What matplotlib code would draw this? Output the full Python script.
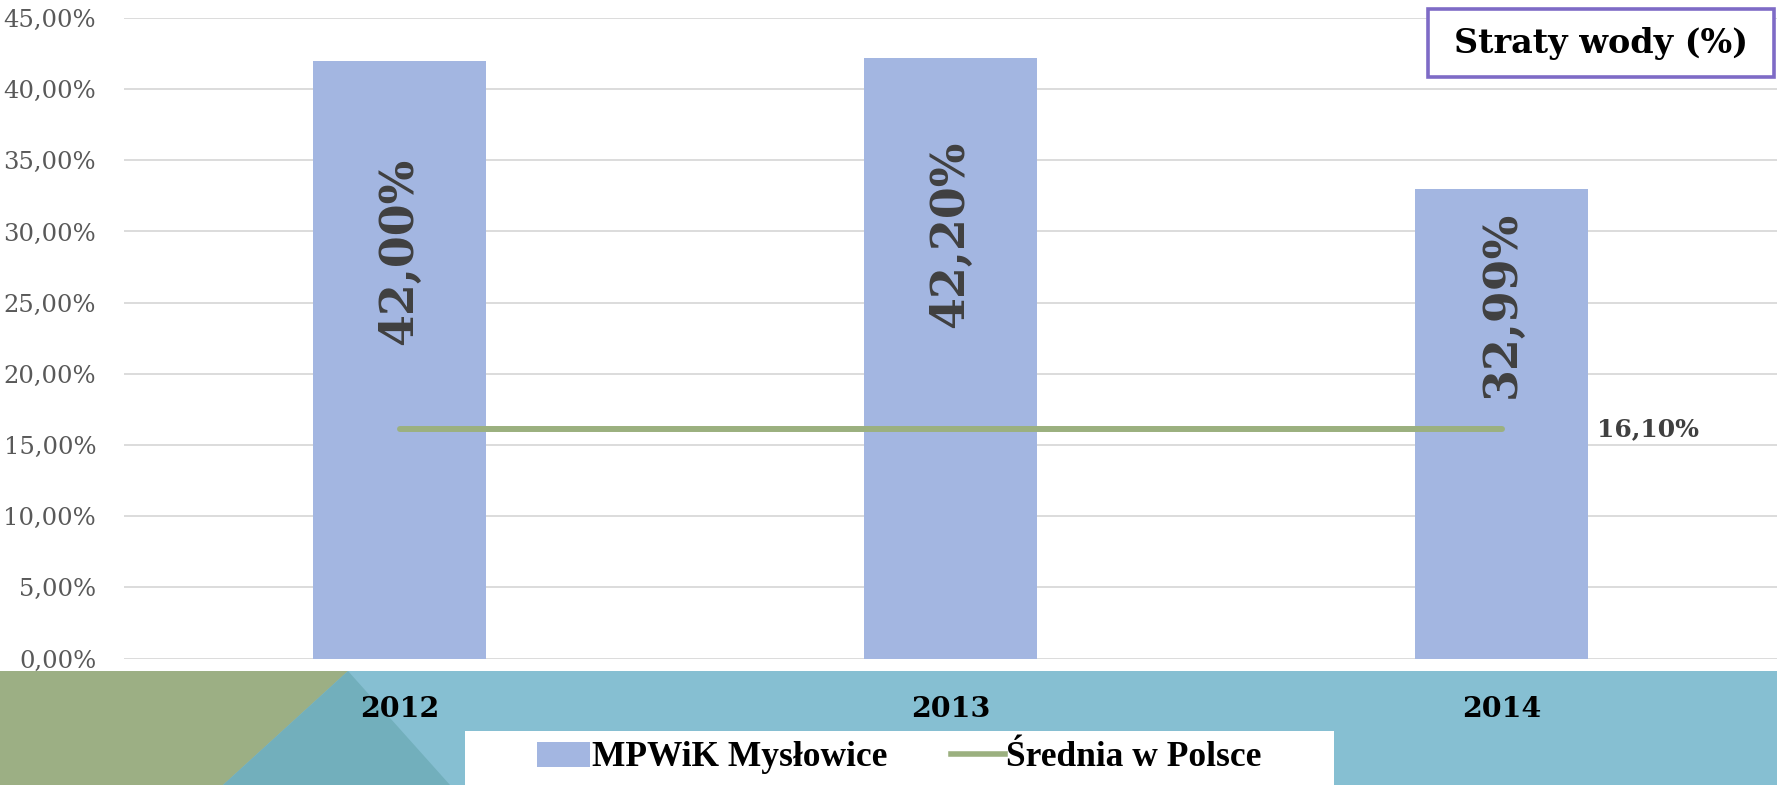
import matplotlib
matplotlib.use("Agg")
import matplotlib.pyplot as plt
from matplotlib.patches import Polygon, Rectangle, Patch
from matplotlib.lines import Line2D
from matplotlib.ticker import FuncFormatter

# ---- data ----
years = ["2012", "2013", "2014"]
mpwik = [0.42, 0.422, 0.3299]
srednia = [0.161, 0.161, 0.161]
y_ticks = [0, 0.05, 0.10, 0.15, 0.20, 0.25, 0.30, 0.35, 0.40, 0.45]
series_names = ["MPWiK Mysłowice", "Średnia w Polsce"]
title_text = "Straty wody (%)"

# label placement (style only)
label_centers = [0.286, 0.298, 0.249]

W, H = 1777, 785
fig = plt.figure(figsize=(W / 100, H / 100), dpi=100)
fig.patch.set_facecolor("white")

def fx(px):
    return px / W

def fy(py):
    return 1 - py / H

# bottom decorative band
fig.add_artist(Rectangle((0, 0), 1, fy(671), transform=fig.transFigure,
                         facecolor="#86BFD2", edgecolor="none", zorder=0))
fig.add_artist(Polygon([(0, fy(671)), (fx(348), fy(671)), (fx(223), 0), (0, 0)],
                       closed=True, transform=fig.transFigure,
                       facecolor="#9CAF84", edgecolor="none", zorder=0.1))
fig.add_artist(Polygon([(fx(348), fy(671)), (fx(223), 0), (fx(450), 0)],
                       closed=True, transform=fig.transFigure,
                       facecolor="#72AFBC", edgecolor="none", zorder=0.2))
# legend white box
fig.add_artist(Rectangle((fx(465), 0), fx(1334) - fx(465), fy(731),
                         transform=fig.transFigure, facecolor="white",
                         edgecolor="none", zorder=0.3))

ax = fig.add_axes([fx(124), fy(658.5), 1 - fx(124), fy(18) - fy(658.5)])
ax.set_zorder(1)
ax.set_facecolor("white")
x = list(range(len(years)))
bar_color = "#A3B6E1"
line_color = "#9BB07F"

ax.bar(x, mpwik, width=0.314, color=bar_color, zorder=2)
ax.plot(x, srednia, color=line_color, lw=4.3, solid_capstyle="round", zorder=3)

ax.set_xlim(-0.5, 2.5)
ax.set_ylim(0, 0.45)
ax.set_yticks(y_ticks)
ax.yaxis.set_major_formatter(FuncFormatter(lambda v, p: f"{v*100:.2f}%".replace(".", ",")))
ax.grid(axis="y", color="#D9D9D9", lw=1.3, zorder=0)
ax.set_axisbelow(True)
for s in ax.spines.values():
    s.set_visible(False)
ax.tick_params(axis="both", length=0)
ax.tick_params(axis="y", pad=20, labelcolor="#595959", labelsize=17.5)
for t in ax.get_yticklabels():
    t.set_fontfamily("DejaVu Serif")
ax.set_xticks(x)
ax.set_xticklabels(years, fontfamily="DejaVu Serif", fontweight="bold",
                   fontsize=20.5, color="black")
ax.tick_params(axis="x", pad=27)

for i, (v, c) in enumerate(zip(mpwik, label_centers)):
    ax.text(i, c, f"{v*100:.2f}%".replace(".", ","), rotation=90,
            ha="center", va="center", fontfamily="DejaVu Serif",
            fontweight="bold", fontsize=33, color="#404040", zorder=4)

ax.text(2.173, srednia[-1], f"{srednia[-1]*100:.2f}%".replace(".", ","),
        ha="left", va="center", fontfamily="DejaVu Serif", fontweight="bold",
        fontsize=18, color="#404040")

# title box
fig.add_artist(Rectangle((fx(1428), fy(77)), fx(1774) - fx(1428), fy(9) - fy(77),
                         transform=fig.transFigure, facecolor="white",
                         edgecolor="#7E6BC6", lw=2.6, zorder=5))
fig.text((fx(1428) + fx(1774)) / 2, fy(44), title_text, ha="center", va="center",
         fontfamily="DejaVu Serif", fontweight="bold", fontsize=24, color="black",
         zorder=6)

handles = [Patch(facecolor=bar_color, edgecolor="none"),
           Line2D([0], [0], color=line_color, lw=4)]
leg = fig.legend(handles, series_names, loc="center",
                 bbox_to_anchor=((fx(465) + fx(1334)) / 2, fy(758)),
                 ncol=2, frameon=False, handlelength=1.5, handletextpad=0.05,
                 columnspacing=1.8,
                 prop={"family": "Liberation Serif", "weight": "bold", "size": 25.5})
leg.set_zorder(6)

fig.savefig("out.png", dpi=100)
